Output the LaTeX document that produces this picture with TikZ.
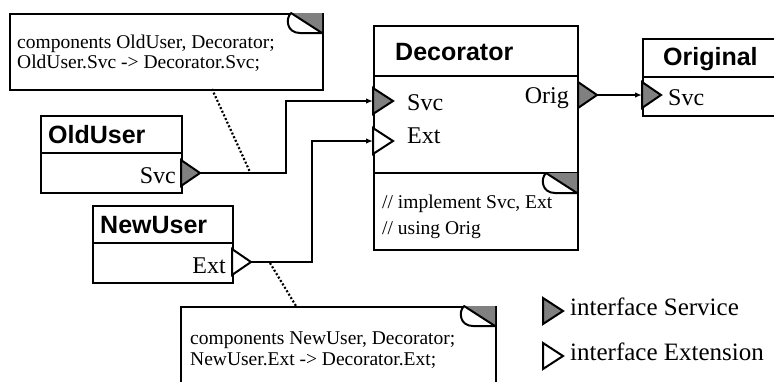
\documentclass[tikz,border=0pt]{standalone}
\usepackage{fontspec}
\setmainfont{Liberation Serif}
\newfontfamily\hdfont{Liberation Sans}
\usetikzlibrary{arrows.meta}
\definecolor{portgray}{RGB}{128,128,128}
\begin{document}
\begin{tikzpicture}[x=1pt,y=-1pt,
  box/.style={draw, line width=2pt, inner sep=0pt, anchor=north west, fill=white},
  sepline/.style={line width=2pt},
  title/.style={font=\hdfont\bfseries\fontsize{25}{25}\selectfont, inner sep=0pt, anchor=base west},
  lbl/.style={font=\fontsize{24}{24}\selectfont, inner sep=0pt},
  leglbl/.style={font=\fontsize{25}{25}\selectfont, inner sep=0pt, anchor=base west},
  notetxt/.style={font=\fontsize{19.5}{19.5}\selectfont, inner sep=0pt, anchor=base west},
  svcport/.style={fill=portgray, draw, line width=2pt, line join=miter},
  extport/.style={fill=white, draw, line width=2pt, line join=miter},
  conn/.style={line width=2pt, -{Latex[length=7pt,width=5.5pt]}},
  dotline/.style={line width=2.2pt, dash pattern=on 2pt off 2pt},
  fold/.pic={
    \fill[portgray] (-31,0) -- (0,0) -- (0,20) -- cycle;
    \filldraw[fill=white, line width=2pt, line join=round]
      (-31,0) -- (0,20) -- (-22,20) .. controls (-35,20) and (-37,6) .. (-31,0) -- cycle;
  }]
\useasboundingbox (0,0) rectangle (774,381);

% note 1
\node[box, minimum width=313pt, minimum height=76pt] (note1) at (9,13) {};
\pic at (322,13) {fold};
\node[notetxt] (n1l1) at (17,48) {components OldUser, Decorator;};
\node[notetxt] (n1l2) at (17,68) {OldUser.Svc -> Decorator.Svc;};

% note 2
\node[box, minimum width=315pt, minimum height=100pt] (note2) at (180,306) {};
\pic at (495,306) {fold};
\node[notetxt] (n2l1) at (190,344) {components NewUser, Decorator;};
\node[notetxt] (n2l2) at (190,365) {NewUser.Ext -> Decorator.Ext;};

% Decorator
\node[box, minimum width=204pt, minimum height=224pt] (dec) at (373,25) {};
\draw[sepline] (373,76) -- (577,76);
\draw[sepline] (373,173) -- (577,173);
\node[title] (dect) at (395,60) {Decorator};
\pic at (577,173) {fold};
\node[notetxt] (dl1) at (382,208) {// implement Svc, Ext};
\node[notetxt] (dl2) at (382,234) {// using Orig};
\node[lbl, anchor=base west] (decsvcl) at (407,110) {Svc};
\node[lbl, anchor=base west] (decextl) at (407,143) {Ext};
\node[lbl, anchor=base east] (decorigl) at (569,103) {Orig};

% Original
\node[box, minimum width=150pt, minimum height=77pt] (orig) at (642,38) {};
\draw[sepline] (642,77) -- (792,77);
\node[title] (origt) at (663,65) {Original};
\node[lbl, anchor=base west] (origsvcl) at (668,105) {Svc};

% OldUser
\node[box, minimum width=141pt, minimum height=77pt] (old) at (40,115) {};
\draw[sepline] (40,153) -- (181,153);
\node[title] (oldt) at (48,143) {OldUser};
\node[lbl, anchor=base east] (oldsvcl) at (176,183) {Svc};

% NewUser
\node[box, minimum width=140pt, minimum height=77pt] (new) at (92,205) {};
\draw[sepline] (92,243) -- (232,243);
\node[title] (newt) at (100,233) {NewUser};
\node[lbl, anchor=base east] (newextl) at (226,273) {Ext};

% ports
\draw[svcport] (181,160) -- (200,173) -- (181,186) -- cycle;
\coordinate (oldsvc) at (200,173);
\draw[extport] (232,249) -- (251,262) -- (232,275) -- cycle;
\coordinate (newext) at (251,262);
\draw[svcport] (373,88) -- (393,101) -- (373,114) -- cycle;
\coordinate (decsvc) at (373,101);
\draw[extport] (373,128) -- (393,141) -- (373,154) -- cycle;
\coordinate (decext) at (373,141);
\draw[svcport] (578,82) -- (597,95) -- (578,108) -- cycle;
\coordinate (decorig) at (597,95);
\draw[svcport] (642,82) -- (661,95) -- (642,108) -- cycle;
\coordinate (origsvc) at (642,95);

% connectors
\draw[conn] (oldsvc) -- ++(86,0) |- (decsvc);
\draw[conn] (newext) -- ++(61,0) |- (decext);
\draw[conn] (decorig) -- (origsvc);

% dotted attachments
\coordinate (d1a) at (212,89);
\coordinate (d1b) at (250,172);
\draw[dotline] (d1a) -- (d1b);
\coordinate (d2a) at (270,263);
\coordinate (d2b) at (296,306);
\draw[dotline] (d2a) -- (d2b);

% legend
\draw[svcport] (543,298) -- (563,311) -- (543,324) -- cycle;
\node[leglbl] (leg1) at (570,315) {interface Service};
\draw[extport] (543,343) -- (563,356) -- (543,369) -- cycle;
\node[leglbl] (leg2) at (570,360) {interface Extension};
\end{tikzpicture}
\end{document}
